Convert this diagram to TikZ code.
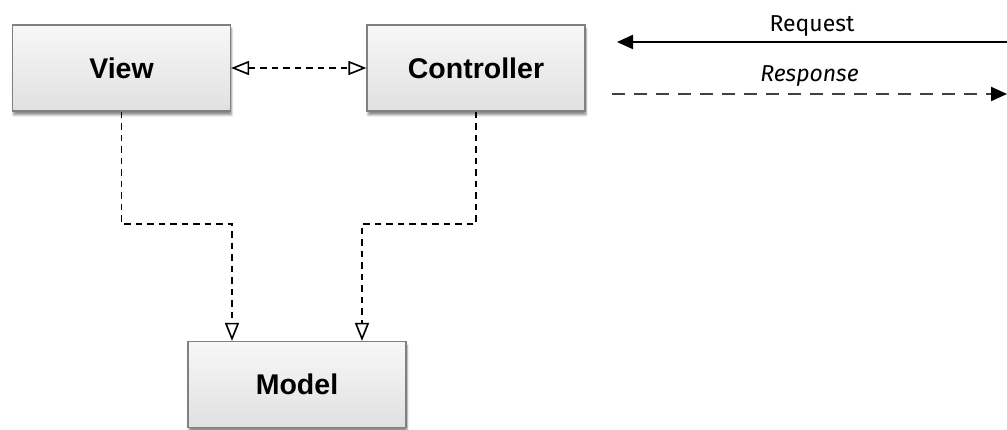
\documentclass[tikz,border=0pt]{standalone}
\usepackage{fontspec}
\setmainfont{Liberation Sans}
\newfontfamily\msgfont{Fira Sans}
\usetikzlibrary{arrows.meta,shadows.blur}

\begin{document}
\begin{tikzpicture}[x=1pt,y=-1pt,
  part/.style = {draw = gray, line width = 1.2pt, top color = gray!6, bottom color = gray!24,
                 minimum width = 218pt, minimum height = 86pt, font = \fontsize{28.5}{32}\selectfont\bfseries,
                 blur shadow = {shadow xshift = 1pt, shadow yshift = -4pt, shadow blur steps = 6, shadow opacity = 45}},
  dep/.style = {dash pattern = on 6.5pt off 5pt, line width = 1.6pt, -{Triangle[open, length = 18pt, width = 14pt]}},
  msg/.style = {font = \msgfont\fontsize{23}{26}\selectfont}]
\useasboundingbox (0,0) rectangle (1007,430);
%\draw[help lines] (0,0) grid[step=50pt] (1007,430);

\node[part] (view) at (121.5,68) {View};
\node[part] (controller) at (476,68) {Controller};
\node[part] (model) at (297,384.5) {Model};

\coordinate (vbend) at (232,224);
\coordinate (cbend) at (362,224);
\coordinate (reqfrom) at (1007,42);
\coordinate (reqto) at (617,42);
\coordinate (resfrom) at (612,94);
\coordinate (resto) at (1007,94);

\draw[dep, {Triangle[open, length = 18pt, width = 14pt]}-{Triangle[open, length = 18pt, width = 14pt]}] (view) -- (controller);
\draw[dep] (view.south) |- (vbend) -- (vbend |- model.north);
\draw[dep] (controller.south) |- (cbend) -- (cbend |- model.north);

\draw[line width = 2.2pt, -{Triangle[length = 16pt, width = 14pt]}] (reqfrom) -- (reqto)
  node[msg, midway, above = 1pt] (request) {Request};
\draw[line width = 2.2pt, draw = black!75, dash pattern = on 13pt off 9pt, -{Triangle[length = 16pt, width = 14pt, color = black]}] (resfrom) -- (resto)
  node[msg, midway, above = 3pt] (response) {\itshape Response};

\end{tikzpicture}
\end{document}
